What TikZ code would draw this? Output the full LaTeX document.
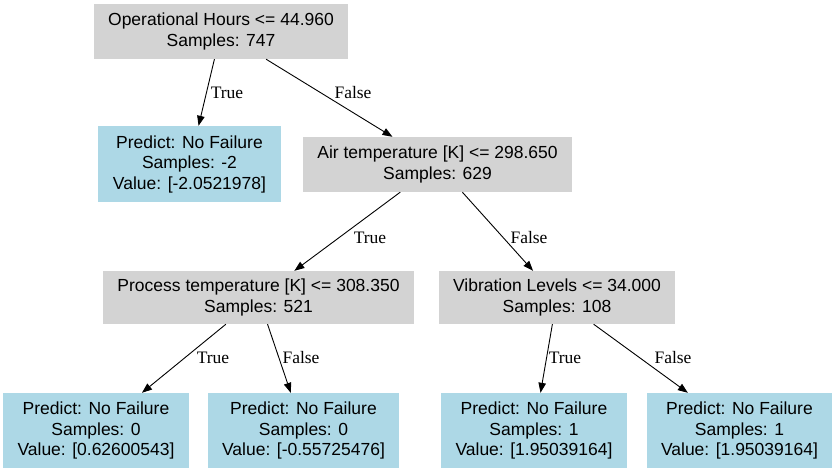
\documentclass[tikz,border=0pt]{standalone}
\usepackage{fontspec}
\setmainfont{Liberation Serif}
\setsansfont{Liberation Sans}
\usetikzlibrary{arrows.meta}
\definecolor{SplitGray}{HTML}{D3D3D3}
\definecolor{LeafBlue}{HTML}{ADD8E6}

\begin{document}
\begin{tikzpicture}[x=1pt,y=-1pt,
  split/.style={fill=SplitGray,align=center,inner xsep=14.5pt,minimum height=55pt,
    font=\sffamily\fontsize{17.5}{20.5}\selectfont},
  leaf/.style={split,fill=LeafBlue,minimum height=76pt},
  edge/.style={-{Triangle[length=10pt,width=7.5pt]},line width=0.9pt},
  elabel/.style={inner sep=1pt,font=\fontsize{17.5}{20.5}\selectfont}]
  \useasboundingbox (0,0) rectangle (836,473);
  \node[split] (root) at (221,31.5) {Operational Hours <= 44.960\\Samples: 747};
  \node[leaf] (nofail) at (189.5,164) {Predict: No Failure\\Samples: -2\\Value: [-2.0521978]};
  \node[split] (air) at (437.5,164.5) {Air temperature [K] <= 298.650\\Samples: 629};
  \node[split,minimum height=53pt] (proc) at (258.5,297.5) {Process temperature [K] <= 308.350\\Samples: 521};
  \node[split,minimum height=53pt] (vib) at (557,297.5) {Vibration Levels <= 34.000\\Samples: 108};
  \node[leaf,minimum height=75pt] (leafa) at (96,430.5) {Predict: No Failure\\Samples: 0\\Value: [0.62600543]};
  \node[leaf,minimum height=75pt] (leafb) at (303.5,430.5) {Predict: No Failure\\Samples: 0\\Value: [-0.55725476]};
  \node[leaf,minimum height=75pt] (leafc) at (534,430.5) {Predict: No Failure\\Samples: 1\\Value: [1.95039164]};
  \node[leaf,minimum height=75pt] (leafd) at (739.5,430.5) {Predict: No Failure\\Samples: 1\\Value: [1.95039164]};
  \draw[edge] (root) -- (nofail);
  \draw[edge] (root) -- (air);
  \draw[edge] (air) -- (proc);
  \draw[edge] (air) -- (vib);
  \draw[edge] (proc) -- (leafa);
  \draw[edge] (proc) -- (leafb);
  \draw[edge] (vib) -- (leafc);
  \draw[edge] (vib) -- (leafd);
  \node[elabel] (t1) at (227,93) {True};
  \node[elabel] (f1) at (353,93) {False};
  \node[elabel] (t2) at (370,238) {True};
  \node[elabel] (f2) at (529,238) {False};
  \node[elabel] (t3) at (213,358) {True};
  \node[elabel] (f3) at (301,358) {False};
  \node[elabel] (t4) at (565,358) {True};
  \node[elabel] (f4) at (673,358) {False};
\end{tikzpicture}
\end{document}
